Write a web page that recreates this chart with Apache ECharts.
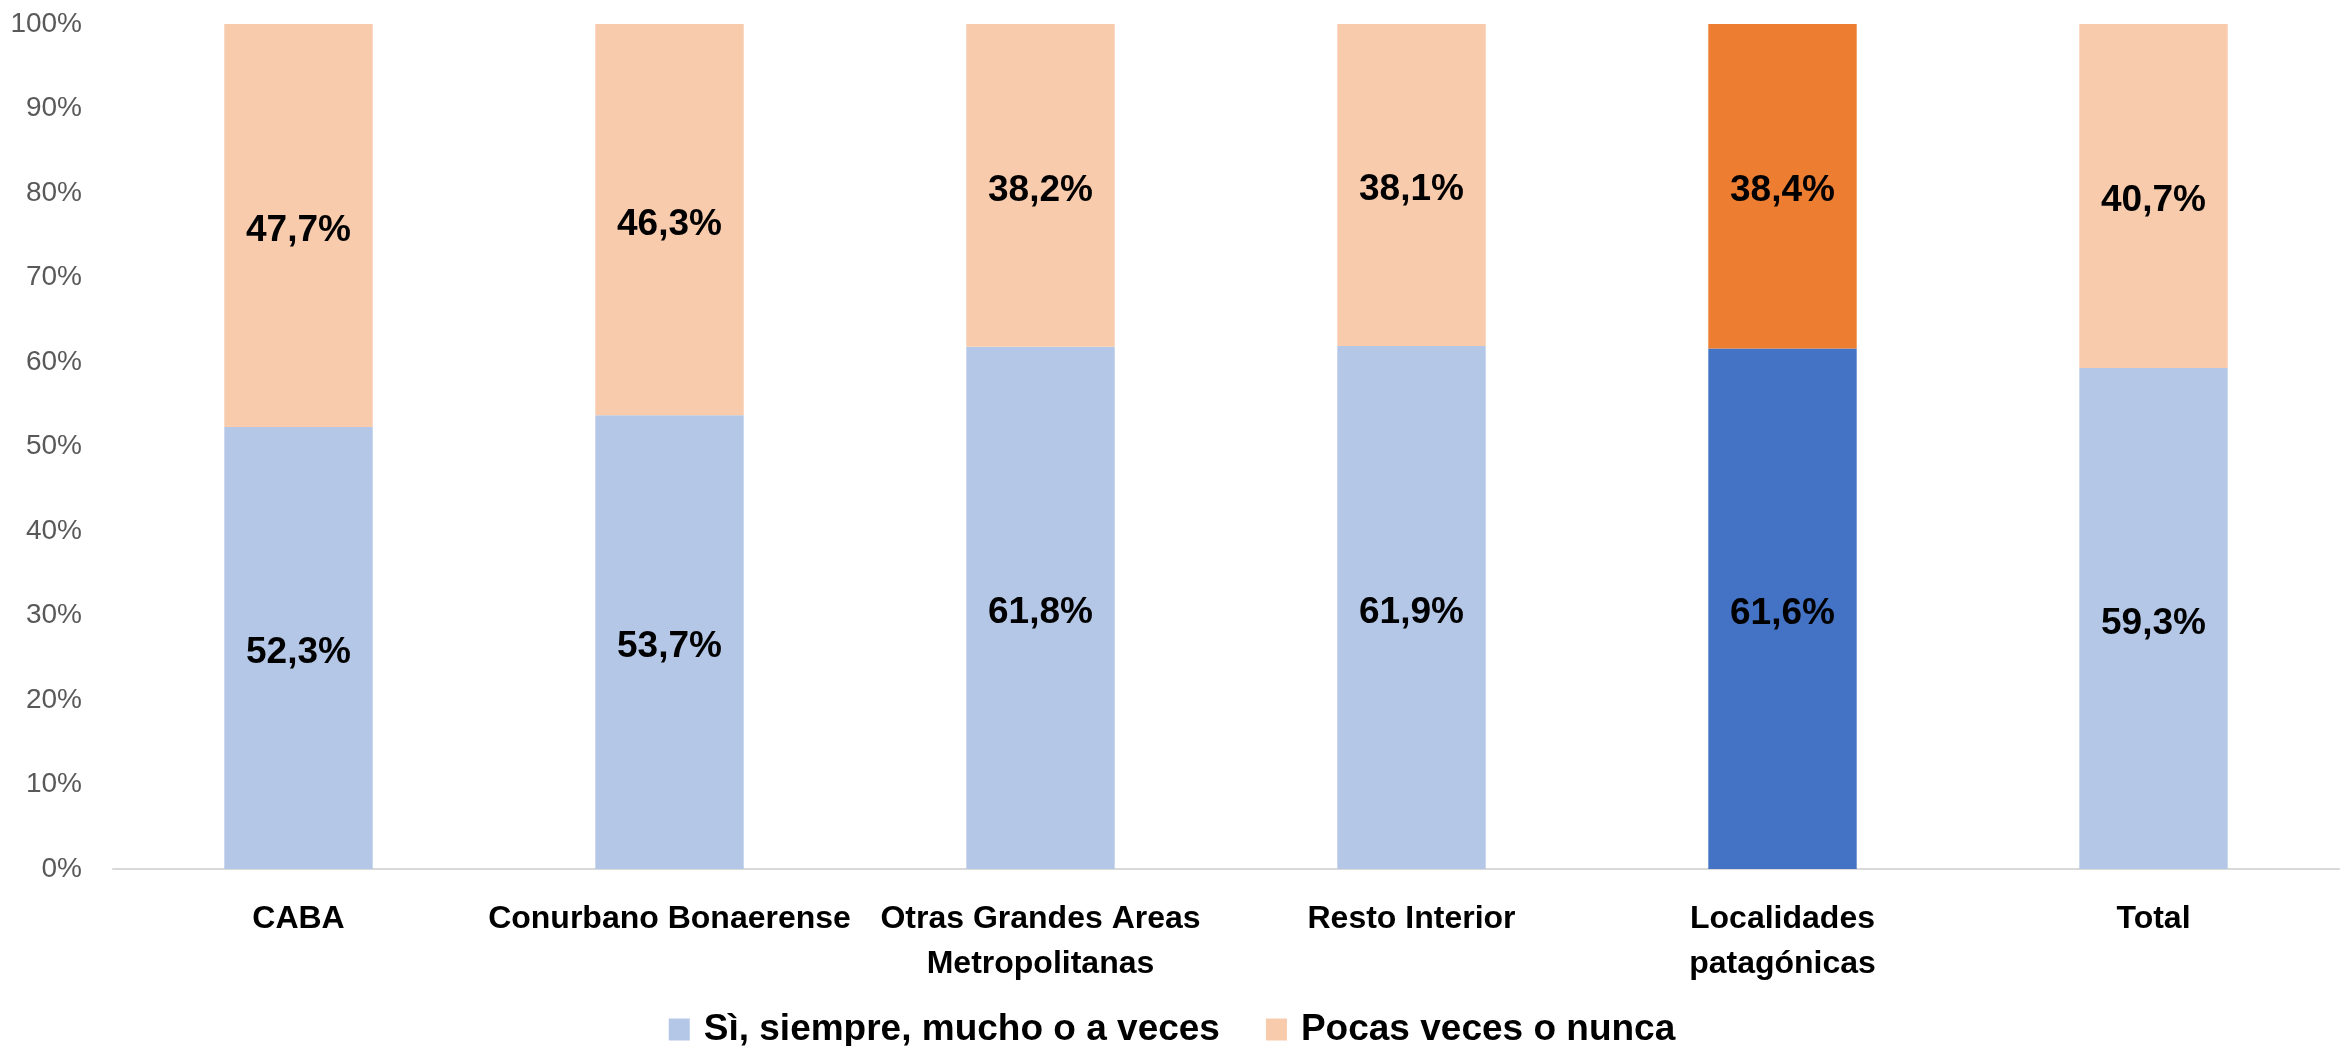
<!DOCTYPE html>
<html>
<head>
<meta charset="utf-8">
<title>chart</title>
<script src="https://cdn.jsdelivr.net/npm/echarts@6/dist/echarts.min.js"></script>
<style>
  html,body{margin:0;padding:0;background:#fff;}
  #chart{width:2344px;height:1046px;}
</style>
</head>
<body>
<div id="chart"></div>
<script>
// categorias (eje x)
var categorias = ['CABA', 'Conurbano Bonaerense', 'Otras Grandes Areas\nMetropolitanas', 'Resto Interior', 'Localidades\npatagónicas', 'Total'];
// serie 1 y serie 2 (porcentajes)
var siempre = [52.3, 53.7, 61.8, 61.9, 61.6, 59.3];
var pocas = [47.7, 46.3, 38.2, 38.1, 38.4, 40.7];
var nombres = ['Sì, siempre, mucho o a veces', 'Pocas veces o nunca'];
var destacado = 4; // Localidades patagónicas va resaltada

var myChart = echarts.init(document.getElementById('chart'));

function armarData(valores, colorResaltado){
    var out = [];
    for(var i = 0; i < valores.length; i++){
        if(i === destacado){
            out.push({value: valores[i], itemStyle: {color: colorResaltado}});
        }else{
            out.push(valores[i]);
        }
    }
    return out;
}

var etiqueta = {
    show: true,
    position: 'inside',
    offset: [0, 5],
    color: '#000',
    fontWeight: 'bold',
    fontSize: 37,
    fontFamily: 'Liberation Sans',
    formatter: function(p){
        return p.value.toFixed(1).replace('.', ',') + '%';
    }
};

myChart.setOption({
    backgroundColor: '#fff',
    animation: false,
    grid: {
        left: 113,
        right: 5,
        top: 24,
        bottom: 177
    },
    legend: {
        top: 1006,
        left: 'center',
        icon: 'rect',
        itemWidth: 21,
        itemHeight: 22,
        itemGap: 46,
        textStyle: {
            color: '#000',
            fontWeight: 'bold',
            fontSize: 37,
            padding: [0, 0, 0, 9],
            fontFamily: 'Liberation Sans'
        },
        data: nombres
    },
    xAxis: {
        type: 'category',
        data: categorias,
        axisLine: {lineStyle: {color: '#D9D9D9', width: 2}},
        axisTick: {show: false},
        axisLabel: {
            interval: 0,
            margin: 28,
            color: '#000',
            fontWeight: 'bold',
            fontSize: 32,
            lineHeight: 45,
            fontFamily: 'Liberation Sans'
        }
    },
    yAxis: {
        type: 'value',
        min: 0,
        max: 100,
        interval: 10,
        splitLine: {show: false},
        axisLine: {show: false},
        axisTick: {show: false},
        axisLabel: {
            margin: 31,
            color: '#595959',
            fontSize: 28,
            fontFamily: 'Liberation Sans',
            formatter: '{value}%'
        }
    },
    series: [
        {
            name: nombres[0],
            type: 'bar',
            stack: 'uno',
            barWidth: '40%',
            itemStyle: {color: '#B4C7E7'},
            label: etiqueta,
            data: armarData(siempre, '#4472C4')
        },
        {
            name: nombres[1],
            type: 'bar',
            stack: 'uno',
            barWidth: '40%',
            itemStyle: {color: '#F8CBAD'},
            label: etiqueta,
            data: armarData(pocas, '#ED7D31')
        }
    ]
});
</script>
</body>
</html>
